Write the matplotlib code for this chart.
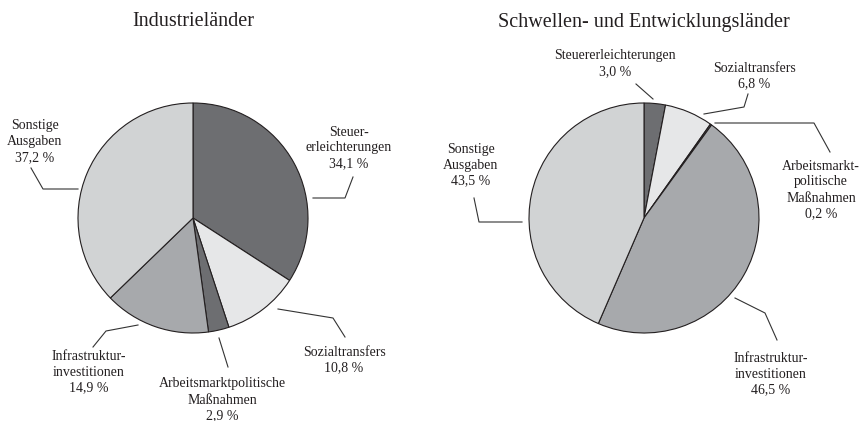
import matplotlib
matplotlib.use('Agg')
import matplotlib.pyplot as plt

plt.rcParams['font.family'] = 'Liberation Serif'

# data
categories = ['Steuererleichterungen', 'Sozialtransfers', 'Arbeitsmarktpolitische Maßnahmen',
              'Infrastrukturinvestitionen', 'Sonstige Ausgaben']
industrie = [34.1, 10.8, 2.9, 14.9, 37.2]
schwellen = [3.0, 6.8, 0.2, 46.5, 43.5]
titles = ['Industrieländer', 'Schwellen- und Entwicklungsländer']

colors = ['#6d6e71', '#e6e7e8', '#6d6e71', '#a7a9ac', '#d1d3d4']
H = 421

def pct(v):
    return f'{v:.1f}'.replace('.', ',') + ' %'

# label text (without value), x, y (pixels, top origin), leader polyline (pixels)
left_labels = [
    ('Steuer-\nerleichterungen', 349, 148, [(313, 198), (345, 198), (353, 177)]),
    ('Sozialtransfers', 344, 360, [(278, 309), (333, 318), (345, 337)]),
    ('Arbeitsmarktpolitische\nMaßnahmen', 222, 400, [(219, 338), (228, 367)]),
    ('Infrastruktur-\ninvestitionen', 89, 372, [(138, 325), (106, 331), (93, 347)]),
    ('Sonstige\nAusgaben', 35, 142, [(78, 189), (43, 189), (31, 168)]),
]
right_labels = [
    ('Steuererleichterungen', 615, 64, [(653, 99), (636, 84)]),
    ('Sozialtransfers', 754, 76, [(704, 114), (744, 107), (748, 94)]),
    ('Arbeitsmarkt-\npolitische\nMaßnahmen', 821, 190, [(715, 123), (814, 123), (830, 152)]),
    ('Infrastruktur-\ninvestitionen', 771, 374, [(735, 298), (765, 313), (777, 340)]),
    ('Sonstige\nAusgaben', 471, 165, [(522, 222), (479, 222), (474, 198)]),
]

fig = plt.figure(figsize=(8.65, 4.21), dpi=100)
ax = fig.add_axes([0, 0, 1, 1])

centers = [(193, H - 218), (644, H - 218)]
txt = '#231f20'

for values, center, title, labels in zip([industrie, schwellen], centers, titles,
                                         [left_labels, right_labels]):
    ax.pie(values, colors=colors, startangle=90, counterclock=False,
           center=center, radius=115, frame=True,
           wedgeprops=dict(edgecolor='#231f20', linewidth=0.8))
    ax.text(center[0], H - 22, title, ha='center', va='center', fontsize=14.5, color=txt)
    for (lab, x, y, pts), v in zip(labels, values):
        ax.text(x, H - y, lab + '\n' + pct(v), ha='center', va='center',
                fontsize=10, color=txt, linespacing=1.3, multialignment='center')
        ax.plot([p[0] for p in pts], [H - p[1] for p in pts], color='#333333',
                lw=0.8, clip_on=False)

ax.set_xlim(0, 865)
ax.set_ylim(0, H)
ax.set_aspect('equal')
ax.axis('off')
fig.savefig('out.png', dpi=100)
